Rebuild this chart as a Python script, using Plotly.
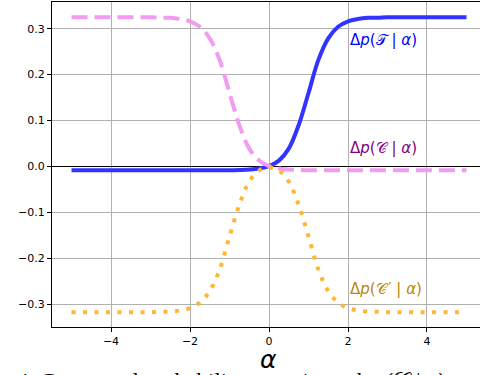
import plotly.graph_objects as go

alpha = [-5.0, -4.75, -4.5, -4.25, -4.0, -3.75, -3.5, -3.25, -3.0, -2.75, -2.5, -2.25,
         -2.0, -1.75, -1.5, -1.25, -1.0, -0.75, -0.5, -0.25, 0.0, 0.25, 0.5, 0.75,
         1.0, 1.25, 1.5, 1.75, 2.0, 2.25, 2.5, 2.75, 3.0, 3.25, 3.5, 3.75, 4.0, 4.25,
         4.5, 4.75, 5.0]

dp_T = [-0.008, -0.008, -0.008, -0.008, -0.008, -0.008, -0.008, -0.008, -0.008, -0.008,
        -0.008, -0.008, -0.008, -0.008, -0.008, -0.008, -0.008, -0.0074, -0.0065, -0.0043,
        0.001, 0.013, 0.039, 0.090, 0.160, 0.232, 0.279, 0.304, 0.316, 0.321, 0.3235,
        0.324, 0.325, 0.325, 0.325, 0.325, 0.325, 0.325, 0.325, 0.325, 0.325]

dp_C = [0.325, 0.325, 0.325, 0.325, 0.325, 0.325, 0.325, 0.325, 0.325, 0.324, 0.3235,
        0.321, 0.316, 0.304, 0.279, 0.232, 0.160, 0.090, 0.039, 0.013, 0.001, -0.0043,
        -0.0065, -0.0074, -0.008, -0.008, -0.008, -0.008, -0.008, -0.008, -0.008, -0.008,
        -0.008, -0.008, -0.008, -0.008, -0.008, -0.008, -0.008, -0.008, -0.008]

dp_Cp = [-0.317, -0.317, -0.317, -0.317, -0.317, -0.317, -0.317, -0.317, -0.317, -0.316,
         -0.3155, -0.313, -0.308, -0.296, -0.271, -0.224, -0.152, -0.083, -0.0325, -0.0087,
         -0.002, -0.0087, -0.0325, -0.083, -0.152, -0.224, -0.271, -0.296, -0.308, -0.313,
         -0.3155, -0.316, -0.317, -0.317, -0.317, -0.317, -0.317, -0.317, -0.317, -0.317,
         -0.317]

labels = ["Δ<i>p</i>(𝒯 | <i>α</i>)", "Δ<i>p</i>(𝒞 | <i>α</i>)",
          "Δ<i>p</i>(𝒞\u200a′ | <i>α</i>)"]
label_pos = [(2.0, 0.275), (2.0, 0.040), (2.0, -0.266)]
label_colors = ["#0000ff", "#800080", "#b8860b"]

fig = go.Figure()
fig.add_trace(go.Scatter(x=alpha, y=dp_T, mode="lines",
                         line=dict(color="rgb(51,51,255)", width=4, shape="spline")))
fig.add_trace(go.Scatter(x=alpha, y=dp_C, mode="lines",
                         line=dict(color="rgb(241,155,241)", width=4, shape="spline",
                                   dash="16px,7px")))
fig.add_trace(go.Scatter(x=alpha, y=dp_Cp, mode="lines",
                         line=dict(color="rgb(255,183,51)", width=4, shape="spline",
                                   dash="4px,7.5px")))

for txt, (lx, ly), c in zip(labels, label_pos, label_colors):
    fig.add_annotation(x=lx, y=ly, xref="x", yref="y", text=txt, showarrow=False,
                       xanchor="left", yanchor="middle",
                       font=dict(family="DejaVu Sans", size=15, color=c))

fig.add_annotation(x=0.507, y=-0.1015, xref="paper", yref="paper", text="<i>α</i>",
                   showarrow=False, xanchor="center", yanchor="middle",
                   font=dict(family="DejaVu Sans", size=25, color="black"))
fig.add_annotation(x=-0.0864, y=-0.122, xref="paper", yref="paper",
                   text="4. Conserved probability mass in each <i>p</i>(𝒞 | <i>α</i>)",
                   showarrow=False, xanchor="left", yanchor="top",
                   font=dict(family="Liberation Serif", size=23, color="black"))

fig.update_layout(
    width=480, height=375,
    margin=dict(l=52, r=0, t=2, b=48),
    paper_bgcolor="white", plot_bgcolor="white",
    showlegend=False,
    font=dict(family="DejaVu Sans", size=11, color="black"),
    xaxis=dict(range=[-5.494, 5.342], tickmode="linear", tick0=0, dtick=2,
               showgrid=True, gridcolor="#b0b0b0", gridwidth=1, zeroline=False,
               showline=True, linecolor="black", linewidth=1, mirror=True,
               ticks="outside", ticklen=4, tickcolor="black"),
    yaxis=dict(range=[-0.349, 0.358], tickmode="linear", tick0=0, dtick=0.1,
               tickformat=".1f",
               showgrid=True, gridcolor="#b0b0b0", gridwidth=1,
               zeroline=True, zerolinecolor="black", zerolinewidth=1,
               showline=True, linecolor="black", linewidth=1,
               ticks="outside", ticklen=4, tickcolor="black"),
)

fig.write_html("out.html")
